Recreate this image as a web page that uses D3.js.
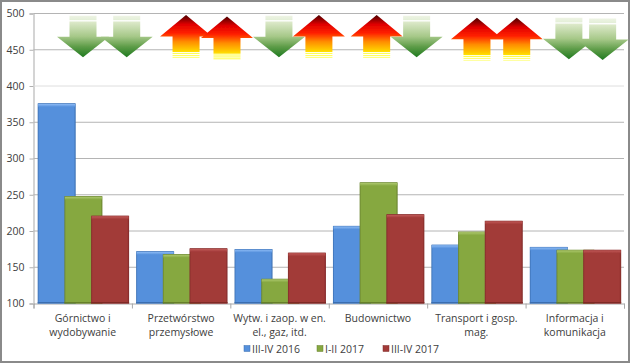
<!DOCTYPE html>
<html><head><meta charset="utf-8">
<script src="https://cdn.jsdelivr.net/npm/d3@7"></script>
<style>html,body{margin:0;padding:0;background:#fff}svg{display:block}text{font-family:"Open Sans",sans-serif;fill:#404040}</style>
</head><body><div id="c"></div>
<script>
const categories = [["Górnictwo i","wydobywanie"],["Przetwórstwo","przemysłowe"],["Wytw. i zaop. w en.","el., gaz, itd."],["Budownictwo"],["Transport i gosp.","mag."],["Informacja i","komunikacja"]];
const seriesNames = ["III-IV 2016","I-II 2017","III-IV 2017"];
const s2016b = [376,172,175,207,181,178];
const s2017a = [248,168,134,267,199,174];
const s2017b = [221,176,170,223,214,174];
const yTicks = [100,150,200,250,300,350,400,450,500];
const arrowDir = ["d","d","u","u","d","u","u","d","u","u","d","d"];
const arrowPos = [0.503,0.947,1.55,1.966,2.494,2.90,3.487,3.893,4.506,4.91,5.44,5.783];
const arrowEnd = [497,497,498,496,497,498,498,497,494,494,494,493];
const colors = [["#86b6f2","#5590dc","#3a6eb0"],["#a8c468","#86a840","#667f2c"],["#bd5654","#a23a38","#7f2a28"]];

const W=630,H=363,L=33.5,R=624,T=13.5,B=303.5;
const svg=d3.select("#c").append("svg").attr("width",W).attr("height",H);
const defs=svg.append("defs");
defs.append("filter").attr("id","soft").append("feGaussianBlur").attr("stdDeviation",0.35);
const x=d3.scaleBand().domain(d3.range(6)).range([L,R]);
const y=d3.scaleLinear().domain([100,500]).range([B,T]);
const xa=d3.scaleLinear().domain([0,6]).range([L,R]);
const off=d3.scaleLinear().domain([0,2]).range([4.2,57.6]);
const lx=d3.scaleOrdinal().domain(seriesNames).range([244,317,383]);
const bw=38;

svg.append("rect").attr("x",1).attr("y",1).attr("width",W-2).attr("height",H-2).attr("fill","#fff").attr("stroke","#8a8a8a").attr("stroke-width",2);

const gy=svg.append("g").attr("transform",`translate(${L},0)`).call(d3.axisLeft(y).tickValues(yTicks).tickSize(4).tickFormat(d3.format("d")));
gy.select(".domain").attr("stroke","#d4d4d4").attr("stroke-width",2);
gy.selectAll(".tick line").attr("stroke","#b0b0b0");
gy.selectAll("text").attr("font-size",10.5).attr("dx",-2).style("fill","#404040");
svg.append("g").selectAll("line").data(yTicks.slice(1)).join("line")
  .attr("x1",L).attr("x2",R).attr("y1",d=>y(d)).attr("y2",d=>y(d)).attr("stroke",d=>d===400?"#dedede":"#b4b4b4").attr("stroke-width",1);
const gx=svg.append("g").attr("transform",`translate(0,${B})`).call(d3.axisBottom(xa).tickValues(d3.range(7)).tickSize(5).tickFormat(""));
gx.select(".domain").attr("stroke","#a8a8a8");
gx.selectAll(".tick line").attr("stroke","#a8a8a8");

colors.forEach((c,i)=>{
  const g=defs.append("linearGradient").attr("id","b"+i).attr("x1",0).attr("x2",1).attr("y1",0).attr("y2",0);
  g.append("stop").attr("offset",0).attr("stop-color",c[2]);
  g.append("stop").attr("offset",.04).attr("stop-color",c[1]);
  g.append("stop").attr("offset",.95).attr("stop-color",c[1]);
  g.append("stop").attr("offset",1).attr("stop-color",c[2]);
  const t=defs.append("linearGradient").attr("id","t"+i).attr("x1",0).attr("x2",0).attr("y1",0).attr("y2",1);
  t.append("stop").attr("offset",0).attr("stop-color",c[2]);
  t.append("stop").attr("offset",.25).attr("stop-color",c[0]);
  t.append("stop").attr("offset",1).attr("stop-color",c[1]);
});
const gd=defs.append("linearGradient").attr("id","down").attr("x1",0).attr("x2",0).attr("y1",0).attr("y2",1);
[[0,"#eef4e4"],[.1,"#e4efd8"],[.12,"#ffffff"],[.16,"#dbe8c8"],[.5,"#a6c888"],[.75,"#5d9c48"],[1,"#1f7a1f"]].forEach(s=>gd.append("stop").attr("offset",s[0]).attr("stop-color",s[1]));
const gu=defs.append("linearGradient").attr("id","up").attr("x1",0).attr("x2",0).attr("y1",0).attr("y2",1);
[[0,"#4a0000"],[.22,"#e00000"],[.42,"#ff2000"],[.62,"#ff8c00"],[.8,"#ffc800"],[.86,"#ffe000"],[.87,"#ffffff"],[.9,"#ffff40"],[.92,"#ffffff"],[.94,"#ffff50"],[.97,"#ffffff"],[.98,"#ffff70"],[1,"#ffff90"]].forEach(s=>gu.append("stop").attr("offset",s[0]).attr("stop-color",s[1]));

const bars=svg.append("g").attr("filter","url(#soft)");
[s2016b,s2017a,s2017b].forEach((vals,i)=>{
  const g=bars.append("g");
  vals.forEach((v,k)=>{
    const X=x(k)+off(i),Y=y(v);
    g.append("rect").attr("x",X).attr("y",Y).attr("width",bw).attr("height",B-Y).attr("fill",`url(#b${i})`);
    g.append("rect").attr("x",X+.5).attr("y",Y).attr("width",bw-1).attr("height",Math.min(3.5,B-Y)).attr("fill",`url(#t${i})`);
    g.append("rect").attr("x",X).attr("y",B-1.5).attr("width",bw).attr("height",1.5).attr("fill",colors[i][2]);
  });
});

const sw=13.5,wing=26,h=41.5,head=20.5;
svg.append("g").attr("filter","url(#soft)").selectAll("path").data(arrowDir.map((d,i)=>({d,p:arrowPos[i],e:arrowEnd[i]}))).join("path")
 .attr("fill",d=>d.d==="d"?"url(#down)":"url(#up)")
 .attr("d",d=>{
   const cx=xa(d.p);
   if(d.d==="d"){const t=y(d.e),tip=t+h,wy=tip-head;
     return `M${cx-sw},${t}H${cx+sw}V${wy}H${cx+wing}L${cx},${tip}L${cx-wing},${wy}H${cx-sw}Z`;}
   const t=y(d.e),wy=t+head+1;
   return `M${cx},${t}L${cx+wing},${wy}H${cx+sw}V${t+h+1.5}H${cx-sw}V${wy}H${cx-wing}Z`;
 });

categories.forEach((lines,k)=>{
  const t=svg.append("text").attr("text-anchor","middle").attr("font-size",10.5);
  lines.forEach((l,j)=>t.append("tspan").attr("x",x(k)+x.bandwidth()/2).attr("y",322+j*13.7).text(l));
});
seriesNames.forEach((n,i)=>{
  const X=lx(n);
  svg.append("rect").attr("x",X).attr("y",345.5).attr("width",6).attr("height",6).attr("fill",colors[i][1]).attr("stroke",colors[i][2]).attr("stroke-width",.5);
  svg.append("text").attr("x",X+8).attr("y",352.5).attr("font-size",10.5).text(n);
});
</script></body></html>
